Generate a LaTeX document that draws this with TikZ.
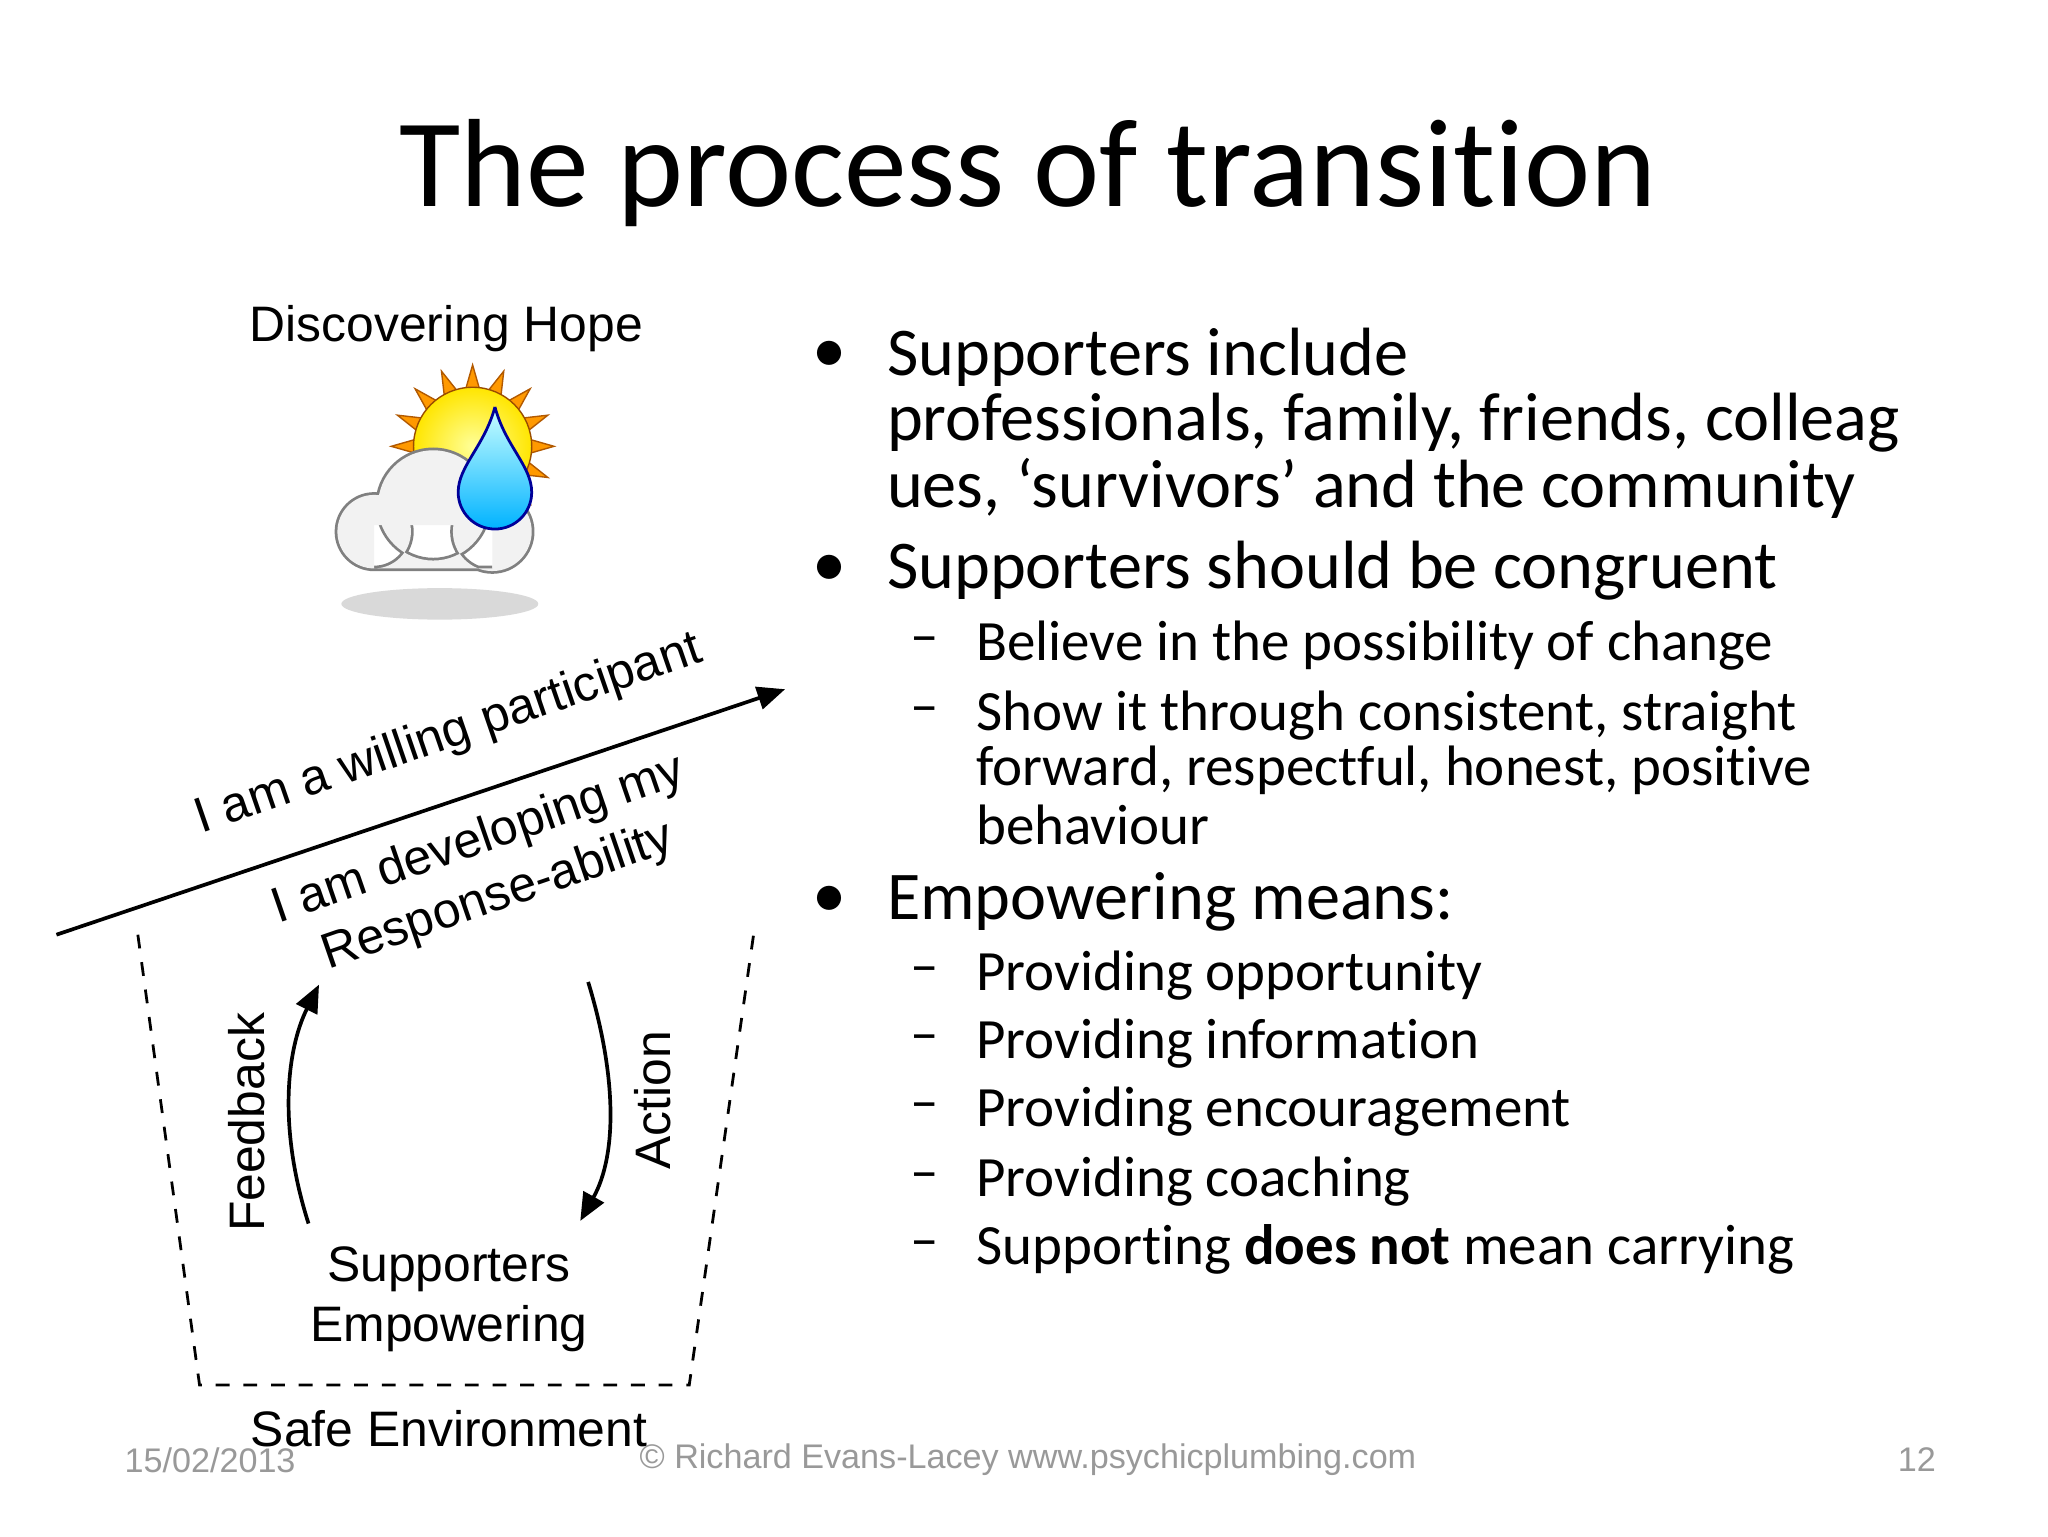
\documentclass[tikz,border=0pt]{standalone}
\usepackage{fontspec}
\setmainfont[Ligatures=NoCommon]{Carlito}
\newfontfamily\arial{Liberation Sans}
\usetikzlibrary{arrows.meta,calc}
\begin{document}
\begin{tikzpicture}
\useasboundingbox[fill=white] (0,0) rectangle (15.6,11.7);
\tikzset{
 main/.style={anchor=west,inner sep=0,font=\fontsize{14.8}{18}\selectfont},
 sub/.style={anchor=west,inner sep=0,font=\fontsize{12.35}{15}\selectfont},
 diag/.style={font=\arial\fontsize{10.8}{13}\selectfont,inner sep=1pt},
 foot/.style={font=\arial\fontsize{7.4}{9}\selectfont,text=gray!80},
 arr/.style={-{Triangle[length=6pt,width=5pt]},line width=0.8pt}
}
\node (title) at (7.83,10.38) {\fontsize{27.2}{32}\selectfont The process of transition};
% icon
\node[diag] (hope) at (3.40,9.20) {Discovering Hope};
\foreach \a in {0,22.5,...,359}{
 \fill[orange!80!yellow,draw=orange!70!black,line width=0.3pt] ($(3.6,8.3)+(\a:0.62)$) -- ($(3.6,8.3)+(\a+8:0.42)$) -- ($(3.6,8.3)+(\a-8:0.42)$) -- cycle;}
\shade[inner color=yellow!40,outer color=yellow!80!orange,draw=orange!60!black,line width=0.3pt] (3.6,8.3) circle (0.45);
\fill[gray!30] (3.35,7.1) ellipse (0.75 and 0.12);
\draw[gray,line width=1.2pt] (2.85,7.65) circle (0.28) (3.3,7.85) circle (0.42) (3.75,7.65) circle (0.3) (2.85,7.37) -- (3.75,7.37);
\fill[gray!10] (2.85,7.65) circle (0.28) (3.3,7.85) circle (0.42) (3.75,7.65) circle (0.3) (2.85,7.37) rectangle (3.75,7.7);
\shade[top color=cyan!20,bottom color=cyan!70!blue,draw=blue!60!black,line width=0.6pt]
 (3.77,8.6) .. controls (3.85,8.3) and (4.05,8.15) .. (4.05,7.95) arc (0:-180:0.28) .. controls (3.49,8.15) and (3.69,8.3) .. (3.77,8.6);
% arrows
\coordinate (a1) at (0.43,4.58); \coordinate (a2) at (5.98,6.45);
\draw[arr] (a1) -- (a2);
\node[diag,rotate=19] (will) at (3.42,6.10) {I am a willing participant};
\node[diag,rotate=19,align=center] (dev) at (3.72,5.08) {I am developing my\\Response-ability};
\draw[dashed,line width=0.6pt] (1.05,4.58) -- (1.52,1.15) -- (5.25,1.15) -- (5.74,4.58);
\node[diag,align=center] (sup) at (3.42,1.80) {Supporters\\Empowering};
\node[diag] (safe) at (3.42,0.82) {Safe Environment};
\draw[arr] (2.35,2.38) .. controls (2.12,3.1) and (2.18,3.7) .. (2.43,4.2);
\draw[arr] (4.48,4.22) .. controls (4.7,3.5) and (4.7,2.9) .. (4.42,2.40);
\node[diag,rotate=90] (fb) at (1.88,3.15) {Feedback};
\node[diag,rotate=90] (act) at (4.97,3.32) {Action};
% footer
\node[foot] (date) at (1.60,0.58) {15/02/2013};
\node[foot] (copy) at (7.83,0.58) {© Richard Evans-Lacey www.psychicplumbing.com};
\node[foot] (pg) at (14.60,0.58) {12};
% bullets
\foreach \y in {8.98,7.35,4.83} \node[main] at (6.18,\y) {•};
\node[main] at (6.75,8.98) {Supporters include};
\node[main] at (6.75,8.48) {professionals, family, friends, colleag};
\node[main] at (6.75,7.98) {ues, ‘survivors’ and the community};
\node[main] at (6.75,7.35) {Supporters should be congruent};
\node[main] at (6.75,4.83) {Empowering means:};
\foreach \y/\t in {6.78/Believe in the possibility of change,6.25/{Show it through consistent, straight},4.27/Providing opportunity,3.75/Providing information,3.23/Providing encouragement,2.70/Providing coaching,2.18/{Supporting \textbf{does not} mean carrying}}{
 \node[sub] at (6.93,\y) {\raisebox{-0.12em}{–}};
 \node[sub] at (7.43,\y) {\t};}
\node[sub] at (7.43,5.83) {forward, respectful, honest, positive};
\node[sub] at (7.43,5.42) {behaviour};
\end{tikzpicture}
\end{document}
